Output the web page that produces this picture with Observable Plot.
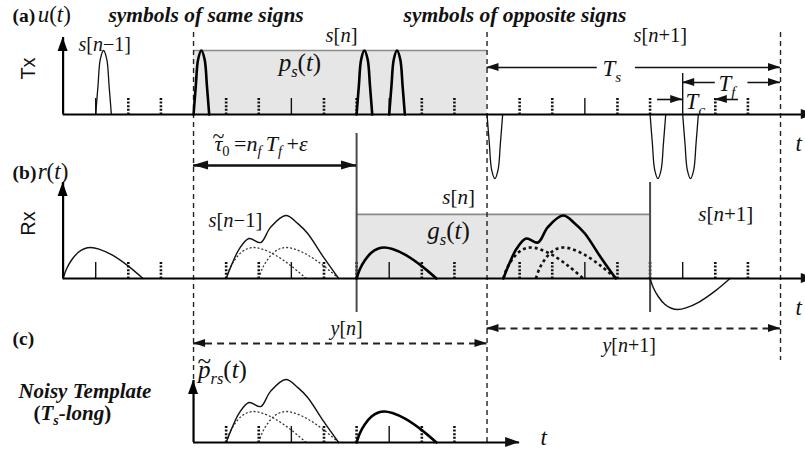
<!DOCTYPE html>
<html><head><meta charset="utf-8">
<script src="https://cdn.jsdelivr.net/npm/d3@7"></script>
<script src="https://cdn.jsdelivr.net/npm/@observablehq/plot@0.6"></script>
<style>html,body{margin:0;padding:0;background:#fff}#chart svg{display:block}</style>
</head><body><div id="chart"></div>
<script>
// ---------------- DATA (time in chip units Tc, amplitudes in pulse units) ----------------
// transmitted pulses u(t): start chip, polarity, symbol
const txStarts  = [1, 4, 9, 10, 13, 18, 19];
const txSigns   = [1, 1, 1, 1, -1, -1, -1];
const txSymbols = ["n-1", "n", "n", "n", "n+1", "n+1", "n+1"];
// monocycle shape: [offset in chips, relative amplitude]
const pulseShape = [[0,0],[0.07,0.45],[0.14,0.86],[0.24,1],[0.34,0.86],[0.41,0.45],[0.48,0]];
// received single-path hump shape
const humpShape = [[0,0],[0.1,0.3],[0.25,0.58],[0.45,0.83],[0.65,0.96],[0.85,1.0],[1.1,0.95],[1.5,0.76],[2.0,0.4],[2.45,0]];
// received overlapped (two-hump) waveform shape
const sumShape = [[0,0],[0.2,0.52],[0.4,0.95],[0.7,1.29],[1.06,1.16],[1.36,1.65],[1.83,2.03],[2.2,1.77],[2.5,1.45],[2.99,0.68],[3.45,0]];
// received single humps r(t) and template
const rxPanels = ["b", "b", "b", "c"];
const rxStarts = [0, 9, 18, 9];
const rxSigns  = [1, 1, -1, 1];
const rxBold   = [false, true, false, true];
// dotted component humps
const compPanels = ["b", "b", "b", "b", "c", "c"];
const compStarts = [5, 6, 13.5, 14.5, 5, 6];
const compBold   = [false, false, true, true, false, false];
// overlapped solid waveforms
const sumPanels = ["b", "b", "c"];
const sumStarts = [5, 13.5, 5];
const sumBold   = [false, true, false];
// chip ticks
const solidTicksAB  = [1, 7, 10, 16, 19];
const dottedTicksAB = [2, 3, 5, 6, 8, 9, 11, 12, 14, 15, 17, 18, 20, 21];
const solidTicksC   = [7, 10];
const dottedTicksC  = [5, 6, 8, 9, 11, 12];
// symbol boundaries (Ts = 9 chips, Tf = 3 chips)
const symbolEdges = [4, 13, 22];
// texts  (*italic*, _{subscript}, ^{accent over previous glyph})
const panelTags = ["(a)", "(b)", "(c)"];
const sideTags = ["Tx", "Rx"];
const headings = ["*symbols of same signs*", "*symbols of opposite signs*", "*Noisy Template*", "(*T*_{*s*}*-long*)"];
const mathLabels = [
  "*u*(*t*)", "*s*[*n*\u22121]", "*s*[*n*]", "*s*[*n*+1]", "*p*_{*s*}(*t*)",
  "*T*_{*s*}", "*T*_{*f*}", "*T*_{*c*}", "*t*",
  "*r*(*t*)", "*\u03C4*^{~}_{0}\u2009=*n*_{*f*}\u2009*T*_{*f*}\u2009+*\u03B5*", "*s*[*n*\u22121]", "*s*[*n*]", "*g*_{*s*}(*t*)", "*s*[*n*+1]", "*t*",
  "*y*[*n*]", "*y*[*n*+1]", "*p*^{~}_{*rs*}(*t*)", "*t*"
];

// ---------------- LAYOUT ----------------
const W = 805, H = 451, CHIP_PX = 32.61, ORIGIN_PX = 62.6;
const base = {a: 114, b: 278, c: 442};
const TX_UNIT = 64, RX_UNIT = 31, TICK = 16;
const mathLayout = [
  [-0.78,21,23],[0.47,50,20],[8.05,41,20.5],[17.49,41,20.5],[6.61,70,25],
  [16.54,75,23],[20.1,90,23],[19.09,108,23],[22.46,150,23],
  [-0.78,178,23],[4.58,150,22],[4.46,226,20.5],[11.63,203,21],[11.17,238,25],[19.48,220,21],[22.46,314,23],
  [8.2,334,20],[16.54,351,20],[4.12,377,25],[14.64,444,23]
];
const panelTagLayout = [[-1.55,21],[-1.55,178],[-1.55,344]];
const sideTagLayout = [[-1.06,68],[-1.06,223]];
const headingLayout = [[1.39,21,21.5],[10.44,21,21.5],[-1.37,397,21],[-0.91,419,21]];

const sans = "Liberation Sans, Arial, sans-serif";
const serif = "Liberation Serif, Times New Roman, serif";

function place(shape, start, sign, y0, unit, id) {
  return shape.map(([dx, a]) => ({x: start + dx, y: y0 - sign * a * unit, id}));
}
const txThin = [], txBold = [];
txStarts.forEach((s, i) => {
  (txSymbols[i] === "n" ? txBold : txThin).push(...place(pulseShape, s, txSigns[i], base.a, TX_UNIT, "tx" + i));
});
const rxThinD = [], rxBoldD = [];
rxStarts.forEach((s, i) => {
  (rxBold[i] ? rxBoldD : rxThinD).push(...place(humpShape, s, rxSigns[i], base[rxPanels[i]], RX_UNIT, "rx" + i));
});
sumStarts.forEach((s, i) => {
  (sumBold[i] ? rxBoldD : rxThinD).push(...place(sumShape, s, 1, base[sumPanels[i]], RX_UNIT, "sum" + i));
});
const compThin = [], compBoldD = [];
compStarts.forEach((s, i) => {
  (compBold[i] ? compBoldD : compThin).push(...place(humpShape, s, 1, base[compPanels[i]], RX_UNIT, "c" + i));
});

const solidTicks = [
  ...solidTicksAB.filter(k => k !== 19).map(k => ({k, y0: base.a})),
  ...solidTicksAB.map(k => ({k, y0: base.b})),
  ...solidTicksC.map(k => ({k, y0: base.c}))
];
const dottedTicks = [
  ...dottedTicksAB.map(k => ({k, y0: base.a})),
  ...dottedTicksAB.map(k => ({k, y0: base.b})),
  ...dottedTicksC.map(k => ({k, y0: base.c}))
];
const grayBoxes = [
  {k1: symbolEdges[0], k2: symbolEdges[1], y1: base.a - TX_UNIT, y2: base.a},
  {k1: 9, k2: 18, y1: base.b - 2.07 * RX_UNIT, y2: base.b}
];
const edgeLines = symbolEdges.map((k, i) => ({k, y1: 32, y2: i === 0 ? 380 : i === 1 ? base.c : 360}));
const longLines = [{k: 9, y1: 133, y2: 312}, {k: 18, y1: 182, y2: 312}];
const tcMarker = [{k: 19, y1: 73, y2: base.a}];

const kMin = -ORIGIN_PX / CHIP_PX, kMax = (W - ORIGIN_PX) / CHIP_PX;
const hAxes = [
  {k1: 0, k2: kMax + 0.3, y: base.a},
  {k1: 0, k2: kMax + 0.3, y: base.b},
  {k1: 4, k2: 14, y: base.c}
];
const vAxes = [
  {k: 0, y1: 37, y2: base.a},
  {k: 0, y1: 182, y2: base.b},
  {k: 4, y1: 380, y2: base.c}
];
const arrows = [
  {k1: 13, k2: 16.38, y: 67, h1: true, h2: false, w: 1.6},
  {k1: 17.55, k2: 22, y: 67, h1: false, h2: true, w: 1.6},
  {k1: 19, k2: 20.0, y: 82, h1: true, h2: false, w: 1.6},
  {k1: 21.0, k2: 22, y: 82, h1: false, h2: true, w: 1.6},
  {k1: 18.23, k2: 19, y: 99, h1: false, h2: true, w: 1.6},
  {k1: 20, k2: 20.71, y: 99, h1: true, h2: false, w: 1.6},
  {k1: 4, k2: 9, y: 165, h1: true, h2: true, w: 2.6}
];
const dashedArrows = [
  {k1: 4, k2: 13, y: 343, h1: true, h2: true, w: 1.8},
  {k1: 13, k2: 22, y: 328, h1: true, h2: true, w: 1.8}
];
const hHeads = [], vHeads = [];
function hHead(k, y, dir, L, Wd, id) {
  hHeads.push({id, x: k, y1: y, y2: y});
  hHeads.push({id, x: k - dir * L / CHIP_PX, y1: y - Wd, y2: y + Wd});
}
[...arrows, ...dashedArrows].forEach((a, i) => {
  const L = a.w > 2 ? 15 : 12, Wd = a.w > 2 ? 4.5 : 4;
  if (a.h1) hHead(a.k1, a.y, -1, L, Wd, "a" + i + "l");
  if (a.h2) hHead(a.k2, a.y, 1, L, Wd, "a" + i + "r");
});
hAxes.forEach((a, i) => hHead(a.k2, a.y, 1, 14, 5, "ax" + i));
vAxes.forEach((a, i) => {
  vHeads.push({id: "v" + i, y: a.y1, x1: a.k, x2: a.k});
  vHeads.push({id: "v" + i, y: a.y1 + 14, x1: a.k - 5 / CHIP_PX, x2: a.k + 5 / CHIP_PX});
});

const mathData = mathLabels.map((t, i) => ({t, k: mathLayout[i][0], y: mathLayout[i][1], s: mathLayout[i][2]}));
const tagData = panelTags.map((t, i) => ({t, k: panelTagLayout[i][0], y: panelTagLayout[i][1]}));
const sideData = sideTags.map((t, i) => ({t, k: sideTagLayout[i][0], y: sideTagLayout[i][1]}));
const headData = headings.map((t, i) => ({t, k: headingLayout[i][0], y: headingLayout[i][1], s: headingLayout[i][2]}));

const svg = Plot.plot({
  width: W, height: H, margin: 0,
  x: {domain: [kMin, kMax], range: [0, W], axis: null},
  y: {domain: [0, H], range: [0, H], axis: null},
  style: {background: "#fff"},
  marks: [
    Plot.rect(grayBoxes, {x1: "k1", x2: "k2", y1: "y1", y2: "y2", fill: "#e6e6e6"}),
    Plot.ruleY(grayBoxes, {y: "y1", x1: "k1", x2: "k2", stroke: "#8c8c8c", strokeWidth: 1.6}),
    Plot.ruleX(solidTicks, {x: "k", y1: d => d.y0 - TICK, y2: "y0", stroke: "#111", strokeWidth: 1.4}),
    Plot.ruleX(dottedTicks, {x: "k", y1: d => d.y0 - TICK, y2: "y0", stroke: "#111", strokeWidth: 2.6, strokeDasharray: "2,1.6"}),
    Plot.ruleX(edgeLines, {x: "k", y1: "y1", y2: "y2", stroke: "#222", strokeWidth: 1.4, strokeDasharray: "5,4"}),
    Plot.ruleX(longLines, {x: "k", y1: "y1", y2: "y2", stroke: "#4a4a4a", strokeWidth: 2}),
    Plot.ruleX(tcMarker, {x: "k", y1: "y1", y2: "y2", stroke: "#111", strokeWidth: 1.4}),
    Plot.line(compThin, {x: "x", y: "y", z: "id", stroke: "#333", strokeWidth: 1.3, strokeDasharray: "2,2", strokeLinecap: "butt", curve: "catmull-rom"}),
    Plot.line(compBoldD, {x: "x", y: "y", z: "id", stroke: "#111", strokeWidth: 2.6, strokeDasharray: "3,3", strokeLinecap: "butt", curve: "catmull-rom"}),
    Plot.line(txThin, {x: "x", y: "y", z: "id", stroke: "#111", strokeWidth: 1.3, curve: "catmull-rom"}),
    Plot.line(txBold, {x: "x", y: "y", z: "id", stroke: "#000", strokeWidth: 2.6, curve: "catmull-rom"}),
    Plot.line(rxThinD, {x: "x", y: "y", z: "id", stroke: "#111", strokeWidth: 1.4, curve: "catmull-rom"}),
    Plot.line(rxBoldD, {x: "x", y: "y", z: "id", stroke: "#000", strokeWidth: 2.6, curve: "catmull-rom"}),
    Plot.ruleY(hAxes, {y: "y", x1: "k1", x2: "k2", stroke: "#000", strokeWidth: 2.2}),
    Plot.ruleX(vAxes, {x: "k", y1: "y1", y2: "y2", stroke: "#000", strokeWidth: 2.2}),
    Plot.ruleY(arrows, {y: "y", x1: "k1", x2: "k2", stroke: "#111", strokeWidth: "w"}),
    Plot.ruleY(dashedArrows, {y: "y", x1: "k1", x2: "k2", stroke: "#222", strokeWidth: 1.8, strokeDasharray: "7,5"}),
    Plot.areaY(hHeads, {x: "x", y1: "y1", y2: "y2", z: "id", fill: "#111"}),
    Plot.areaX(vHeads, {y: "y", x1: "x1", x2: "x2", z: "id", fill: "#000"}),
    Plot.text(tagData, {x: "k", y: "y", text: "t", textAnchor: "start", lineAnchor: "bottom", fontFamily: serif, fontWeight: "bold", fontSize: 19.5, fill: "#111"}),
    Plot.text(sideData, {x: "k", y: "y", text: "t", rotate: -90, textAnchor: "middle", lineAnchor: "middle", fontFamily: sans, fontSize: 20, fill: "#111"}),
    Plot.text(headData, {x: "k", y: "y", text: "t", textAnchor: "start", lineAnchor: "bottom", fontFamily: serif, fontWeight: "bold", fontSize: d => d.s, fill: "#111"}),
    Plot.text(mathData, {x: "k", y: "y", text: "t", textAnchor: "start", lineAnchor: "bottom", fontFamily: serif, fontSize: d => d.s, fill: "#111"})
  ]
});
document.getElementById("chart").appendChild(svg);

// make sure the mark font family is applied to every text element
svg.querySelectorAll("text").forEach(t => {
  const g = t.closest("[font-family]");
  if (g && g !== svg) t.style.fontFamily = g.getAttribute("font-family");
});

// rich text: *italic*, _{subscript}, ^{accent}
function parseRich(s) {
  const parts = []; let italic = false, mode = null, buf = "";
  const flush = () => { if (buf) parts.push({text: buf, italic, sub: mode === "sub", accent: mode === "acc"}); buf = ""; };
  for (let i = 0; i < s.length; i++) {
    const c = s[i];
    if (c === "*") { flush(); italic = !italic; }
    else if (c === "_" && s[i + 1] === "{") { flush(); mode = "sub"; i++; }
    else if (c === "^" && s[i + 1] === "{") { flush(); mode = "acc"; i++; }
    else if (c === "}" && mode) { flush(); mode = null; }
    else buf += c;
  }
  flush();
  return parts;
}
const NS = "http://www.w3.org/2000/svg";
svg.querySelectorAll("text").forEach(t => {
  const s = t.textContent;
  if (!/[*]|_\{|\^\{/.test(s)) return;
  const fs = parseFloat(getComputedStyle(t).fontSize) || 18;
  const parts = parseRich(s);
  t.textContent = "";
  let cur = 0, prev = null, pendingDx = 0;
  parts.forEach(p => {
    const ts = document.createElementNS(NS, "tspan");
    ts.textContent = p.text;
    ts.setAttribute("font-style", p.italic ? "italic" : "normal");
    if (p.sub) ts.setAttribute("font-size", (fs * 0.66).toFixed(1));
    const want = p.accent ? -fs * 0.36 : p.sub ? fs * 0.26 : 0;
    if (want !== cur) ts.setAttribute("dy", (want - cur).toFixed(1));
    cur = want;
    if (pendingDx && !p.accent) { ts.setAttribute("dx", pendingDx.toFixed(1)); pendingDx = 0; }
    t.appendChild(ts);
    if (p.accent && prev) {
      const bw = prev.getComputedTextLength(), tw = ts.getComputedTextLength();
      ts.setAttribute("dx", (-(bw + tw) / 2).toFixed(1));
      pendingDx = bw / 2 - tw / 2;
    }
    prev = ts;
  });
});
</script>
</body></html>
